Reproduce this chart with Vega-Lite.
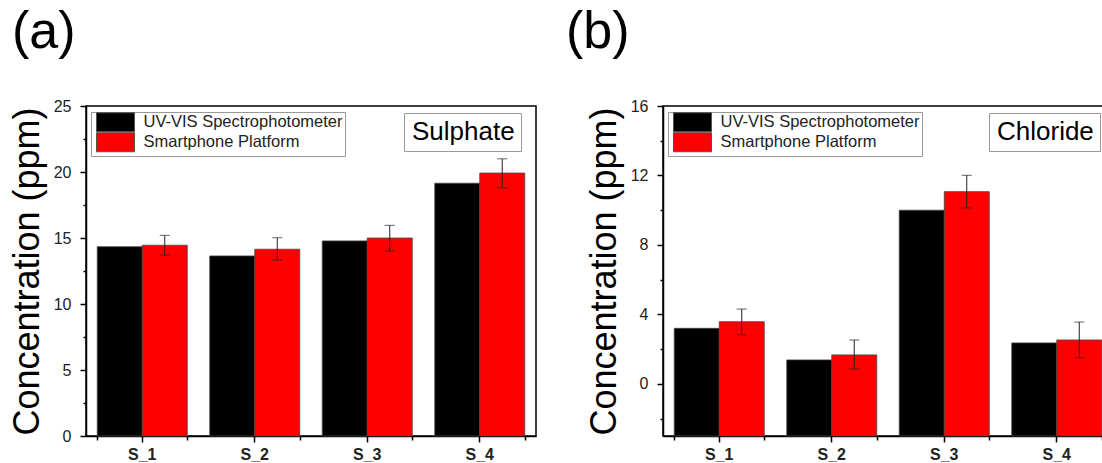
{
  "$schema": "https://vega.github.io/schema/vega-lite/v6.json",
  "padding": {"left": 8, "top": 5, "right": 0, "bottom": 0},
  "background": "white",
  "spacing": 28,
  "datasets": {
    "sulphate": [
      {"panel": "Sulphate", "sample": "S_1", "method": "UV-VIS Spectrophotometer", "value": 14.34},
      {"panel": "Sulphate", "sample": "S_1", "method": "Smartphone Platform", "value": 14.45, "lo": 13.7, "hi": 15.2},
      {"panel": "Sulphate", "sample": "S_2", "method": "UV-VIS Spectrophotometer", "value": 13.64},
      {"panel": "Sulphate", "sample": "S_2", "method": "Smartphone Platform", "value": 14.15, "lo": 13.33, "hi": 15.02},
      {"panel": "Sulphate", "sample": "S_3", "method": "UV-VIS Spectrophotometer", "value": 14.78},
      {"panel": "Sulphate", "sample": "S_3", "method": "Smartphone Platform", "value": 15.0, "lo": 14.02, "hi": 15.96},
      {"panel": "Sulphate", "sample": "S_4", "method": "UV-VIS Spectrophotometer", "value": 19.15},
      {"panel": "Sulphate", "sample": "S_4", "method": "Smartphone Platform", "value": 19.92, "lo": 18.8, "hi": 21.0}
    ],
    "chloride": [
      {"panel": "Chloride", "sample": "S_1", "method": "UV-VIS Spectrophotometer", "value": 3.2},
      {"panel": "Chloride", "sample": "S_1", "method": "Smartphone Platform", "value": 3.58, "lo": 2.82, "hi": 4.31},
      {"panel": "Chloride", "sample": "S_2", "method": "UV-VIS Spectrophotometer", "value": 1.38},
      {"panel": "Chloride", "sample": "S_2", "method": "Smartphone Platform", "value": 1.67, "lo": 0.86, "hi": 2.53},
      {"panel": "Chloride", "sample": "S_3", "method": "UV-VIS Spectrophotometer", "value": 10.0},
      {"panel": "Chloride", "sample": "S_3", "method": "Smartphone Platform", "value": 11.07, "lo": 10.13, "hi": 12.01},
      {"panel": "Chloride", "sample": "S_4", "method": "UV-VIS Spectrophotometer", "value": 2.36},
      {"panel": "Chloride", "sample": "S_4", "method": "Smartphone Platform", "value": 2.53, "lo": 1.51, "hi": 3.56}
    ]
  },
  "hconcat": [
    {
      "width": 450,
      "height": 330,
      "title": {"text": "(a)", "anchor": "start", "frame": "group", "fontSize": 52, "fontWeight": "normal", "font": "Liberation Sans", "color": "black", "dx": -74, "offset": -2, "baseline": "alphabetic"},
      "data": {"name": "sulphate"},
      "resolve": {"axis": {"x": "independent", "y": "independent"}},
      "layer": [
        {
          "mark": {"type": "bar", "stroke": "#444", "strokeWidth": 0.8},
          "encoding": {
            "x": {"field": "sample", "type": "nominal", "scale": {"paddingInner": 0.2, "paddingOuter": 0.1}, "axis": {"orient": "bottom", "title": null, "labelAngle": 0, "labelFontSize": 16, "labelFontWeight": "bold", "labelColor": "#222", "tickSize": 6, "labelPadding": 4, "domainColor": "black", "domainWidth": 1.5, "tickColor": "black", "tickWidth": 1.5}},
            "xOffset": {"field": "method", "type": "nominal", "sort": ["UV-VIS Spectrophotometer", "Smartphone Platform"]},
            "y": {"field": "value", "type": "quantitative", "scale": {"domain": [0, 25], "nice": false}, "axis": {"orient": "left", "values": [0, 5, 10, 15, 20, 25], "title": "Concentration (ppm)", "titleFontSize": 36, "titleFontWeight": "normal", "titleColor": "black", "titlePadding": 7, "labelFontSize": 16, "labelColor": "#222", "tickSize": 6, "labelPadding": 9, "domainColor": "black", "domainWidth": 1.5, "tickColor": "black", "tickWidth": 1.5, "grid": false}},
            "y2": {"datum": 0},
            "color": {"field": "method", "type": "nominal", "scale": {"domain": ["UV-VIS Spectrophotometer", "Smartphone Platform"], "range": ["#000000", "#ff0000"]}, "legend": {"title": null, "orient": "none", "legendX": 5, "legendY": 6, "strokeColor": "#999", "padding": 2, "symbolType": "M-1,-2H7V2H-1Z", "symbolSize": 90.25, "symbolStrokeColor": "#555", "symbolStrokeWidth": 1, "labelFontSize": 16.5, "labelColor": "#222", "labelOffset": 34, "labelLimit": 0, "rowPadding": -5}}
          }
        },
        {
          "transform": [{"filter": "isValid(datum.lo)"}],
          "mark": {"type": "rule", "color": "#222", "strokeWidth": 1},
          "encoding": {
            "x": {"field": "sample", "type": "nominal", "axis": {"orient": "bottom", "tickBand": "extent", "labels": false, "domain": false, "title": null, "tickSize": 4, "tickColor": "black", "tickWidth": 1.5}},
            "xOffset": {"field": "method", "type": "nominal", "sort": ["UV-VIS Spectrophotometer", "Smartphone Platform"]},
            "y": {"field": "lo", "type": "quantitative", "axis": {"orient": "left", "values": [2.5, 7.5, 12.5, 17.5, 22.5], "labels": false, "domain": false, "title": null, "grid": false, "tickSize": 3, "tickColor": "black", "tickWidth": 1.5}},
            "y2": {"field": "hi"}
          }
        },
        {
          "transform": [{"filter": "isValid(datum.lo)"}],
          "mark": {"type": "tick", "color": "#222", "thickness": 1, "size": 10},
          "encoding": {
            "x": {"field": "sample", "type": "nominal", "axis": null},
            "xOffset": {"field": "method", "type": "nominal", "sort": ["UV-VIS Spectrophotometer", "Smartphone Platform"]},
            "y": {"field": "lo", "type": "quantitative", "axis": null}
          }
        },
        {
          "transform": [{"filter": "isValid(datum.lo)"}],
          "mark": {"type": "tick", "color": "#222", "thickness": 1, "size": 10},
          "encoding": {
            "x": {"field": "sample", "type": "nominal", "axis": null},
            "xOffset": {"field": "method", "type": "nominal", "sort": ["UV-VIS Spectrophotometer", "Smartphone Platform"]},
            "y": {"field": "hi", "type": "quantitative", "axis": null}
          }
        },
        {
          "mark": {"type": "point", "opacity": 0},
          "encoding": {
            "shape": {"field": "panel", "type": "nominal", "legend": {"title": null, "orient": "none", "legendX": 318, "legendY": 7, "strokeColor": "#999", "padding": 6, "symbolSize": 0, "symbolOpacity": 0, "symbolStrokeWidth": 0, "labelOffset": -24, "labelFontSize": 26, "labelColor": "black"}}
          }
        }
      ]
    },
    {
      "width": 450,
      "height": 330,
      "title": {"text": "(b)", "anchor": "start", "frame": "group", "fontSize": 52, "fontWeight": "normal", "font": "Liberation Sans", "color": "black", "dx": -97, "offset": -2, "baseline": "alphabetic"},
      "data": {"name": "chloride"},
      "resolve": {"axis": {"x": "independent", "y": "independent"}},
      "layer": [
        {
          "mark": {"type": "bar", "stroke": "#444", "strokeWidth": 0.8},
          "encoding": {
            "x": {"field": "sample", "type": "nominal", "scale": {"paddingInner": 0.2, "paddingOuter": 0.1}, "axis": {"orient": "bottom", "title": null, "labelAngle": 0, "labelFontSize": 16, "labelFontWeight": "bold", "labelColor": "#222", "tickSize": 6, "labelPadding": 4, "domainColor": "black", "domainWidth": 1.5, "tickColor": "black", "tickWidth": 1.5}},
            "xOffset": {"field": "method", "type": "nominal", "sort": ["UV-VIS Spectrophotometer", "Smartphone Platform"]},
            "y": {"field": "value", "type": "quantitative", "scale": {"domain": [-3, 16], "nice": false, "zero": false}, "axis": {"orient": "left", "values": [0, 4, 8, 12, 16], "title": "Concentration (ppm)", "titleFontSize": 36, "titleFontWeight": "normal", "titleColor": "black", "titlePadding": 7, "labelFontSize": 16, "labelColor": "#222", "tickSize": 6, "labelPadding": 9, "domainColor": "black", "domainWidth": 1.5, "tickColor": "black", "tickWidth": 1.5, "grid": false}},
            "y2": {"datum": -3},
            "color": {"field": "method", "type": "nominal", "scale": {"domain": ["UV-VIS Spectrophotometer", "Smartphone Platform"], "range": ["#000000", "#ff0000"]}, "legend": {"title": null, "orient": "none", "legendX": 5, "legendY": 6, "strokeColor": "#999", "padding": 2, "symbolType": "M-1,-2H7V2H-1Z", "symbolSize": 90.25, "symbolStrokeColor": "#555", "symbolStrokeWidth": 1, "labelFontSize": 16.5, "labelColor": "#222", "labelOffset": 34, "labelLimit": 0, "rowPadding": -5}}
          }
        },
        {
          "transform": [{"filter": "isValid(datum.lo)"}],
          "mark": {"type": "rule", "color": "#222", "strokeWidth": 1},
          "encoding": {
            "x": {"field": "sample", "type": "nominal", "axis": {"orient": "bottom", "tickBand": "extent", "labels": false, "domain": false, "title": null, "tickSize": 4, "tickColor": "black", "tickWidth": 1.5}},
            "xOffset": {"field": "method", "type": "nominal", "sort": ["UV-VIS Spectrophotometer", "Smartphone Platform"]},
            "y": {"field": "lo", "type": "quantitative", "axis": {"orient": "left", "values": [-2, 2, 6, 10, 14], "labels": false, "domain": false, "title": null, "grid": false, "tickSize": 3, "tickColor": "black", "tickWidth": 1.5}},
            "y2": {"field": "hi"}
          }
        },
        {
          "transform": [{"filter": "isValid(datum.lo)"}],
          "mark": {"type": "tick", "color": "#222", "thickness": 1, "size": 10},
          "encoding": {
            "x": {"field": "sample", "type": "nominal", "axis": null},
            "xOffset": {"field": "method", "type": "nominal", "sort": ["UV-VIS Spectrophotometer", "Smartphone Platform"]},
            "y": {"field": "lo", "type": "quantitative", "axis": null}
          }
        },
        {
          "transform": [{"filter": "isValid(datum.lo)"}],
          "mark": {"type": "tick", "color": "#222", "thickness": 1, "size": 10},
          "encoding": {
            "x": {"field": "sample", "type": "nominal", "axis": null},
            "xOffset": {"field": "method", "type": "nominal", "sort": ["UV-VIS Spectrophotometer", "Smartphone Platform"]},
            "y": {"field": "hi", "type": "quantitative", "axis": null}
          }
        },
        {
          "mark": {"type": "point", "opacity": 0},
          "encoding": {
            "shape": {"field": "panel", "type": "nominal", "legend": {"title": null, "orient": "none", "legendX": 326, "legendY": 7, "strokeColor": "#999", "padding": 6, "symbolSize": 0, "symbolOpacity": 0, "symbolStrokeWidth": 0, "labelOffset": -24, "labelFontSize": 26, "labelColor": "black"}}
          }
        }
      ]
    }
  ],
  "resolve": {"scale": {"color": "independent", "shape": "independent"}},
  "config": {
    "font": "Liberation Sans",
    "view": {"stroke": "black", "strokeWidth": 1.5},
    "axis": {"grid": false}
  }
}
